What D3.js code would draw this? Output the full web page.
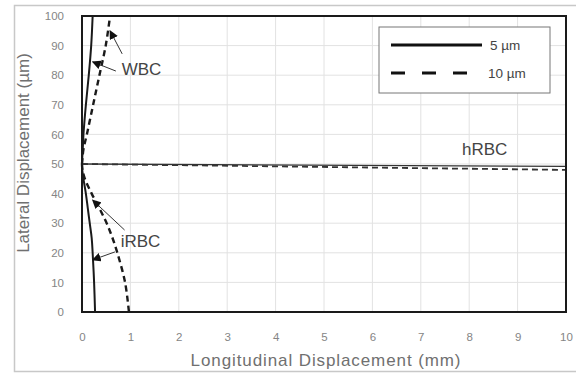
<!DOCTYPE html>
<html>
<head>
<meta charset="utf-8">
<script src="https://cdn.jsdelivr.net/npm/d3@7"></script>
<style>
  html, body { margin: 0; padding: 0; background: #fff; overflow: hidden; }
  svg { display: block; }
  text { font-family: Arial, "Liberation Sans", sans-serif; }
</style>
</head>
<body>
<div id="chart"></div>
<script>
// Lateral positions (µm) sampled along each trajectory, with longitudinal (mm)
const wbcLateral = [50, 52, 55, 60, 70, 80, 90, 100];
const wbc5 = [0, 0.005, 0.015, 0.03, 0.08, 0.14, 0.19, 0.22];
const wbc10 = [0, 0.01, 0.03, 0.1, 0.23, 0.36, 0.49, 0.58];

const irbcLateral = [50, 48, 45, 40, 35, 30, 25, 20, 10, 0];
const irbc5 = [0, 0.005, 0.03, 0.08, 0.12, 0.16, 0.2, 0.22, 0.25, 0.27];
const irbc10 = [0, 0.01, 0.06, 0.2, 0.36, 0.51, 0.63, 0.73, 0.89, 0.97];

const hrbcLong = [0, 10];
const hrbc5 = [50, 49.2];
const hrbc10 = [50, 48.0];

const xTicks = [0, 1, 2, 3, 4, 5, 6, 7, 8, 9, 10];
const yTicks = [0, 10, 20, 30, 40, 50, 60, 70, 80, 90, 100];
const legendLabels = ["5  \u00b5m", "10 \u00b5m"];

const width = 576, height = 374;
const margin = {top: 16, left: 82, right: 10, bottom: 62};
const innerWidth = width - margin.left - margin.right;
const innerHeight = height - margin.top - margin.bottom;

const svg = d3.select("#chart")
  .append("svg")
    .attr("width", width)
    .attr("height", height);

// outer frame (right side runs off the picture)
svg.append("path")
  .attr("d", `M${width},5.5 H14.5 V371.5 H${width}`)
  .attr("fill", "none").attr("stroke", "#c8c8c8").attr("stroke-width", 1.5);

const xScale = d3.scaleLinear().domain([0, 10]).range([0, innerWidth]);
const yScale = d3.scaleLinear().domain([0, 100]).range([innerHeight, 0]);

const innerChart = svg.append("g")
  .attr("transform", `translate(${margin.left}, ${margin.top})`);

// grid
innerChart.append("g")
  .selectAll("line")
  .data(xTicks)
  .join("line")
    .attr("x1", d => xScale(d)).attr("x2", d => xScale(d))
    .attr("y1", 0).attr("y2", innerHeight)
    .attr("stroke", "#e2e2e2");
innerChart.append("g")
  .selectAll("line")
  .data(yTicks)
  .join("line")
    .attr("x1", 0).attr("x2", innerWidth)
    .attr("y1", d => yScale(d)).attr("y2", d => yScale(d))
    .attr("stroke", "#e2e2e2");

// axes (labels only)
const bottomAxis = d3.axisBottom(xScale).tickValues(xTicks).tickSize(0).tickPadding(21);
innerChart.append("g")
  .attr("class", "axis-x")
  .attr("transform", `translate(0, ${innerHeight})`)
  .call(bottomAxis);
const leftAxis = d3.axisLeft(yScale).tickValues(yTicks).tickSize(0).tickPadding(18);
innerChart.append("g")
  .attr("class", "axis-y")
  .call(leftAxis);
innerChart.selectAll(".axis-x path, .axis-y path").remove();
innerChart.selectAll(".axis-x text, .axis-y text")
  .attr("fill", "#858585")
  .style("font-size", "11.5px")
  .style("font-family", "Arial, 'Liberation Sans', sans-serif");

// axis titles
svg.append("text")
  .attr("x", 326)
  .attr("y", 366)
  .attr("text-anchor", "middle")
  .attr("fill", "#707070")
  .style("font-size", "17px")
  .style("letter-spacing", "0.9px")
  .text("Longitudinal Displacement (mm)");
svg.append("text")
  .attr("transform", "translate(29, 153) rotate(-90)")
  .attr("text-anchor", "middle")
  .attr("fill", "#707070")
  .style("font-size", "17px")
  .text("Lateral Displacement (\u00b5m)");

// trajectories
const solid = {dash: null, w: 2};
const dashed = {dash: "6,4", w: 2.4};

const traces = [
  {xs: wbc5, ys: wbcLateral, s: solid},
  {xs: wbc10, ys: wbcLateral, s: dashed},
  {xs: irbc5, ys: irbcLateral, s: solid},
  {xs: irbc10, ys: irbcLateral, s: dashed}
];
innerChart.selectAll(".trace")
  .data(traces)
  .join("path")
    .attr("class", "trace")
    .attr("d", d => {
      const pts = d.ys.map((y, i) => [xScale(d.xs[i]), yScale(y)]);
      return d3.line().curve(d3.curveCatmullRom.alpha(0.5))(pts);
    })
    .attr("fill", "none")
    .attr("stroke", "#1a1a1a")
    .attr("stroke-width", d => d.s.w)
    .attr("stroke-dasharray", d => d.s.dash);

const hLine = d3.line().x((d, i) => xScale(hrbcLong[i])).y(d => yScale(d));
innerChart.append("path")
  .attr("d", hLine(hrbc5))
  .attr("fill", "none").attr("stroke", "#333").attr("stroke-width", 1.3);
innerChart.append("path")
  .attr("d", hLine(hrbc10))
  .attr("fill", "none").attr("stroke", "#333").attr("stroke-width", 1.8)
  .attr("stroke-dasharray", "6,4");

// plot frame
innerChart.append("rect")
  .attr("width", innerWidth).attr("height", innerHeight)
  .attr("fill", "none").attr("stroke", "#1a1a1a").attr("stroke-width", 2);

// annotations
svg.append("defs").append("marker")
  .attr("id", "arrow")
  .attr("viewBox", "0 0 10 10")
  .attr("refX", 9).attr("refY", 5)
  .attr("markerWidth", 9).attr("markerHeight", 9)
  .attr("orient", "auto")
  .append("path")
    .attr("d", "M0,0 L10,5 L0,10 z")
    .attr("fill", "#111");

const labels = [
  {text: "WBC", x: 0.82, y: 80},
  {text: "iRBC", x: 0.80, y: 22},
  {text: "hRBC", x: 7.85, y: 53}
];
innerChart.selectAll(".ann")
  .data(labels)
  .join("text")
    .attr("class", "ann")
    .attr("x", d => xScale(d.x))
    .attr("y", d => yScale(d.y))
    .attr("fill", "#444")
    .style("font-size", "17px")
    .text(d => d.text);

const arrows = [
  {from: [0.70, 81.4], to: [0.22, 84.5]},
  {from: [0.83, 87.2], to: [0.58, 95]},
  {from: [0.88, 27.7], to: [0.22, 37.8]},
  {from: [0.68, 20.3], to: [0.22, 17.6]}
];
innerChart.selectAll(".arr")
  .data(arrows)
  .join("line")
    .attr("class", "arr")
    .attr("x1", d => xScale(d.from[0])).attr("y1", d => yScale(d.from[1]))
    .attr("x2", d => xScale(d.to[0])).attr("y2", d => yScale(d.to[1]))
    .attr("stroke", "#333").attr("stroke-width", 1)
    .attr("marker-end", "url(#arrow)");

// legend
const legend = svg.append("g").attr("transform", "translate(379, 27)");
legend.append("rect")
  .attr("width", 171).attr("height", 66)
  .attr("fill", "#fff").attr("stroke", "#777").attr("stroke-width", 1);
const legendItems = legend.selectAll(".leg")
  .data(legendLabels)
  .join("g")
    .attr("class", "leg")
    .attr("transform", (d, i) => `translate(0, ${18 + i * 28})`);
legendItems.append("line")
  .attr("x1", 12).attr("x2", (d, i) => i === 0 ? 103 : 88)
  .attr("stroke", "#111").attr("stroke-width", 3.2)
  .attr("stroke-dasharray", (d, i) => i === 0 ? null : "14,17");
legendItems.append("text")
  .attr("x", (d, i) => i === 0 ? 111 : 109)
  .attr("y", 5)
  .attr("fill", "#444")
  .style("font-size", "13.5px")
  .text(d => d);
</script>
</body>
</html>
